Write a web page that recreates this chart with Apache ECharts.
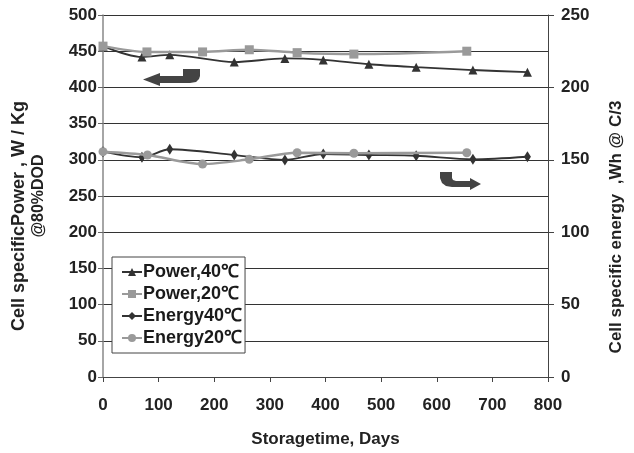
<!DOCTYPE html>
<html><head><meta charset="utf-8">
<script src="https://cdn.jsdelivr.net/npm/echarts@6/dist/echarts.min.js"></script>
<style>html,body{margin:0;padding:0;background:#fff}#c{width:634px;height:453px}</style>
</head><body><div id="c"></div>
<script>
// Data (days, value)
const power40Days = [0, 70, 120, 236, 327, 396, 478, 563, 665, 763];
const power40Vals = [457, 442, 445, 435, 440, 438, 432, 428, 424, 421];
const power20Days = [0, 79, 179, 263, 349, 451, 654];
const power20Vals = [457, 449, 449, 452, 448, 446, 450];
const energy40Days = [0, 70, 120, 236, 327, 396, 478, 563, 665, 763];
const energy40Vals = [155.6, 151.7, 157.3, 153.3, 149.9, 154, 153.3, 152.8, 150.3, 152.1];
const energy20Days = [0, 80, 179, 263, 349, 451, 654];
const energy20Vals = [155.6, 153.3, 147.1, 150.3, 154.9, 154.5, 154.9];
const seriesNames = ['Power,40\u2103', 'Power,20\u2103', 'Energy40\u2103', 'Energy20\u2103'];
const xTitle = 'Storagetime, Days';
const leftTitle1 = 'Cell specificPower , W / Kg';
const leftTitle2 = '@80%DOD';
const rightTitle = 'Cell specific energy  ,Wh @ C/3';

const pair = (d, v) => d.map((x, i) => [x, v[i]]);
const FONT = '"Liberation Sans", Arial, sans-serif';
const dark = '#333333', gray = '#9a9a9a';

const chart = echarts.init(document.getElementById('c'), null, {renderer: 'canvas'});
chart.setOption({
  animation: false,
  backgroundColor: '#fff',
  textStyle: {fontFamily: FONT},
  grid: {left: 103, right: 86, top: 15, bottom: 76, containLabel: false},
  xAxis: {
    type: 'value', min: 0, max: 800, interval: 100,
    name: xTitle, nameLocation: 'middle', nameGap: 54,
    nameTextStyle: {fontSize: 17, fontWeight: 'bold', color: '#222', fontFamily: FONT},
    axisLine: {show: true, onZero: false, lineStyle: {color: '#444', width: 1}},
    axisTick: {show: true, inside: false, length: 5, lineStyle: {color: '#444'}},
    axisLabel: {fontSize: 17, fontWeight: 'bold', color: '#222', margin: 20, fontFamily: FONT},
    splitLine: {show: false}
  },
  yAxis: [{
    type: 'value', min: 0, max: 500, interval: 50, position: 'left',
    name: '{a|' + leftTitle1 + '}\n{b|' + leftTitle2 + '}',
    nameLocation: 'middle', nameRotate: 90, nameGap: 54,
    nameTextStyle: {
      fontSize: 18, fontWeight: 'bold', color: '#222', fontFamily: FONT,
      rich: {
        a: {fontSize: 18, fontWeight: 'bold', color: '#222', fontFamily: FONT, lineHeight: 20, padding: [0, 40, 0, 0]},
        b: {fontSize: 16, fontWeight: 'bold', color: '#222', fontFamily: FONT, lineHeight: 20}
      }
    },
    axisLine: {show: true, lineStyle: {color: '#888', width: 1.5}},
    axisTick: {show: true, length: 5, lineStyle: {color: '#666'}},
    axisLabel: {fontSize: 17, fontWeight: 'bold', color: '#222', margin: 6, fontFamily: FONT},
    splitLine: {show: true, lineStyle: {color: '#333', width: 1}}
  }, {
    type: 'value', min: 0, max: 250, interval: 50, position: 'right',
    name: rightTitle, nameLocation: 'middle', nameRotate: 90, nameGap: 60,
    nameTextStyle: {fontSize: 17, fontWeight: 'bold', color: '#222', fontFamily: FONT, padding: [0, 62, 0, 0]},
    axisLine: {show: true, lineStyle: {color: '#444', width: 1}},
    axisTick: {show: true, length: 6, lineStyle: {color: '#444'}},
    axisLabel: {fontSize: 17, fontWeight: 'bold', color: '#222', margin: 13, fontFamily: FONT},
    splitLine: {show: false}
  }],
  legend: {
    orient: 'vertical', left: 112, top: 257,
    backgroundColor: '#fff', borderColor: '#444', borderWidth: 1,
    padding: [6, 3, 6, 9], itemGap: 4, itemWidth: 20, itemHeight: 10,
    textStyle: {fontSize: 18, fontWeight: 'bold', color: '#1a1a1a', fontFamily: FONT, padding: [0, 0, 0, -4]},
    data: seriesNames
  },
  series: [
    {name: seriesNames[0], type: 'line', yAxisIndex: 0, data: pair(power40Days, power40Vals),
      smooth: 0.3, symbol: 'triangle', symbolSize: 9, color: dark,
      lineStyle: {color: dark, width: 1.8}, itemStyle: {color: dark}, z: 3},
    {name: seriesNames[1], type: 'line', yAxisIndex: 0, data: pair(power20Days, power20Vals),
      smooth: 0.3, symbol: 'rect', symbolSize: 9, color: gray,
      lineStyle: {color: gray, width: 2.5}, itemStyle: {color: gray}, z: 4},
    {name: seriesNames[2], type: 'line', yAxisIndex: 1, data: pair(energy40Days, energy40Vals),
      smooth: 0.3, symbol: 'diamond', symbolSize: [7, 11], color: dark,
      lineStyle: {color: dark, width: 1.8}, itemStyle: {color: dark}, z: 3},
    {name: seriesNames[3], type: 'line', yAxisIndex: 1, data: pair(energy20Days, energy20Vals),
      smooth: 0.3, symbol: 'circle', symbolSize: 9, color: gray,
      lineStyle: {color: gray, width: 2.5}, itemStyle: {color: gray}, z: 4}
  ],
  graphic: [
    {type: 'polygon', z: 10, shape: {points: [[200,69],[200,76],[199,79],[196,82],[190,83],[160,83],[160,86],[143,79.5],[160,73],[160,76],[183,76],[183,69]]}, style: {fill: '#444'}},
    {type: 'polygon', z: 10, shape: {points: [[440,172],[452,172],[452,178],[453,180],[456,181],[470,181],[470,178],[481,184],[470,190],[470,187],[452,187],[446,186],[442,183],[440,178]]}, style: {fill: '#444'}}
  ]
});
</script></body></html>
